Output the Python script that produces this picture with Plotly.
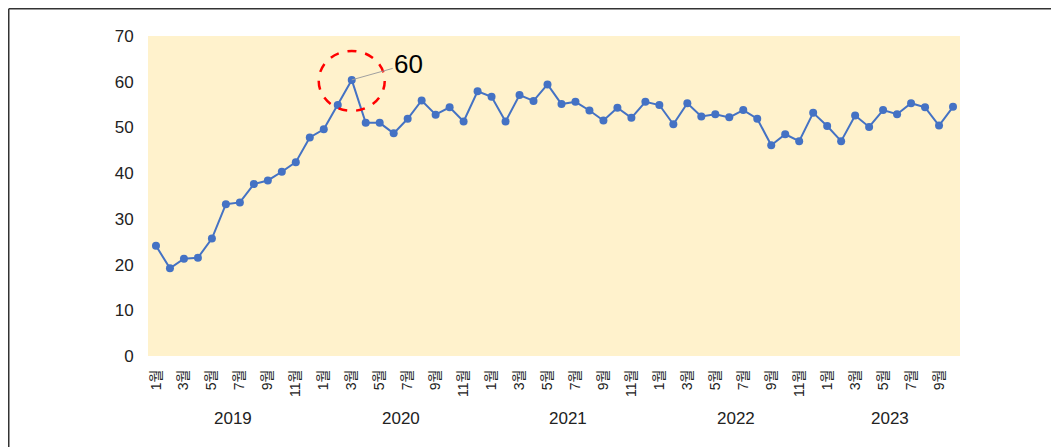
import plotly.graph_objects as go

years = [2019, 2020, 2021, 2022, 2023]
months_per_year = [12, 12, 12, 12, 10]
values = [
    24.1, 19.2, 21.3, 21.5, 25.7, 33.2, 33.6, 37.6, 38.4, 40.3, 42.4, 47.8,
    49.6, 54.9, 60.4, 51.0, 51.0, 48.7, 51.9, 55.9, 52.8, 54.4, 51.3, 57.9,
    56.7, 51.3, 57.1, 55.8, 59.4, 55.1, 55.6, 53.7, 51.5, 54.3, 52.1, 55.6,
    54.9, 50.7, 55.3, 52.4, 52.9, 52.2, 53.8, 51.9, 46.1, 48.5, 47.0, 53.2,
    50.3, 47.0, 52.6, 50.1, 53.8, 52.9, 55.3, 54.4, 50.4, 54.5,
]
highlight_index = 14

# build month sequence
months = []
for n in months_per_year:
    months.extend(range(1, n + 1))
xs = list(range(len(values)))
tickvals = [i for i, m in zip(xs, months) if m % 2 == 1]
ticktext = [f"{m}월" for i, m in zip(xs, months) if m % 2 == 1]

FONT = "'Liberation Sans', Arial, 'Noto Sans CJK KR', sans-serif"

fig = go.Figure()
fig.add_trace(go.Scatter(
    x=xs, y=values, mode="lines+markers",
    line=dict(color="#4472C4", width=2),
    marker=dict(color="#4472C4", size=8),
    showlegend=False, hoverinfo="skip",
))

annotations = []
start = 0
for yr, n in zip(years, months_per_year):
    annotations.append(dict(
        x=start + (n - 1) / 2, y=0, xref="x", yref="paper",
        yanchor="middle", yshift=-62, text=str(yr), showarrow=False,
        font=dict(family=FONT, size=17, color="#222"),
    ))
    start += n

hv = values[highlight_index]
annotations.append(dict(
    x=highlight_index, y=hv, xref="x", yref="y",
    text=str(int(hv)), showarrow=True, arrowhead=0, arrowwidth=1,
    arrowcolor="#A0A0A0", ax=57, ay=-16, standoff=0,
    font=dict(family=FONT, size=26, color="#000"),
))

W, H = 1051, 439
L, T, PW, PH = 140, 28, 812, 320
bx = (0.75 - L) / PW
by = (PH + T - 0.75) / PH
shapes = [
    dict(type="circle", xref="x", yref="y", xsizemode="pixel", ysizemode="pixel",
         xanchor=highlight_index, yanchor=hv, x0=-33, x1=33, y0=-31, y1=29,
         line=dict(color="#FF0000", width=2.5, dash="dash"), layer="above"),
    dict(type="line", xref="paper", yref="paper", x0=bx, x1=1.3,
         y0=by, y1=by, line=dict(color="#333", width=1.5)),
    dict(type="line", xref="paper", yref="paper", x0=bx, x1=bx,
         y0=by, y1=-0.5, line=dict(color="#333", width=1.5)),
]

fig.update_layout(
    width=W, height=H,
    margin=dict(l=L, r=W - L - PW, t=T, b=H - T - PH),
    paper_bgcolor="white", plot_bgcolor="#FFF2CC",
    font=dict(family=FONT, size=16, color="#222"),
    annotations=annotations, shapes=shapes,
    xaxis=dict(range=[-0.57, 57.5], tickvals=tickvals, ticktext=ticktext,
               tickangle=-90, showgrid=False, zeroline=False, showline=False,
               ticks="outside", ticklen=7, tickcolor="rgba(0,0,0,0)",
               tickfont=dict(family=FONT, size=14, color="#222")),
    yaxis=dict(range=[0, 70], dtick=10, showgrid=False, zeroline=False,
               showline=False, ticks="outside", ticklen=10,
               tickcolor="rgba(0,0,0,0)",
               tickfont=dict(family=FONT, size=17, color="#222")),
)

fig.write_html("out.html")
